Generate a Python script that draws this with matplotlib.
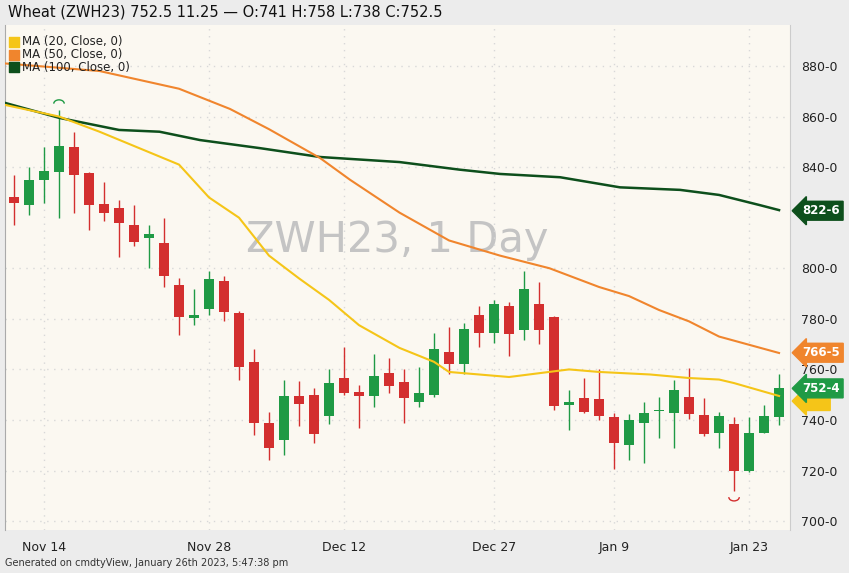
import numpy as np
import matplotlib.pyplot as plt
from matplotlib.patches import Arc

# OHLC candles, one per trading day
opens = [828, 825, 835, 838, 848, 837.5, 825.5, 824, 817, 812, 810, 793.4, 780.3, 784, 795, 782.3,
         763, 739, 732, 749.5, 750, 741.6, 756.6, 751, 749.5, 758.6, 755, 747, 750, 767, 762, 781.5,
         774.4, 785, 775.6, 786, 780.7, 746, 748.7, 748.3, 741, 730, 738.8, 743.5, 742.7, 749, 742,
         734.8, 738.4, 720, 734.8, 741]
closes = [826, 835, 838.5, 848.5, 837, 825, 822, 818, 810.5, 813.5, 797, 780.7, 781.5, 795.7, 782.7, 761,
          739, 729, 749.5, 746.3, 734.5, 754.6, 750.6, 749.5, 757.4, 753.4, 748.7, 750.6, 768, 762, 776, 774.4,
          786, 774, 792, 775.6, 745.5, 747, 743, 741.6, 731, 740, 742.7, 744, 751.8, 742.3, 734.5,
          741.6, 720, 734.8, 741.6, 752.5]
highs = [837, 840, 848, 862.6, 854, 838, 834, 827, 825, 817, 820, 796, 792, 799, 797, 783,
         768, 743, 756, 755.4, 752.6, 760, 769, 754, 766, 764.5, 760, 761, 774.4, 776.8, 778.5, 785,
         787.4, 786.6, 798.9, 794.6, 781, 751.7, 756.6, 760, 742.7, 742.4, 747, 749, 756, 760.4, 748.7,
         743, 741, 741, 746, 758]
lows = [817, 821, 826, 820, 822, 815, 818.5, 804.5, 809, 800, 792.6, 773.6, 777.5, 781.5, 779, 755.8,
        734, 724, 726, 737.6, 731, 738.4, 750, 737, 745, 750.6, 739, 745, 749, 758, 758, 769,
        770.6, 765.5, 771.6, 770, 744, 736, 742.7, 740, 720.6, 724, 723, 733, 729, 740.4, 733.7,
        729, 712, 719.5, 734.8, 738]

# moving averages: (candle index, value)
ma20_x = [-0.6, 3, 5.7, 11, 13, 15, 17, 19, 21, 23, 25.7, 28, 29, 31, 33, 35, 37, 39, 42.4, 45, 47, 48, 51]
ma20_y = [864.6, 860, 854, 841, 828, 820, 805, 796, 787.5, 777.5, 768.5, 763, 759, 758, 757, 758.5, 760, 759, 758, 756.6, 756, 754.6, 749.5]
ma50_x = [-0.6, 5.7, 11, 14.4, 17, 20.4, 22.4, 25.7, 29, 32.4, 35.7, 39, 41, 43, 45, 47, 51]
ma50_y = [881, 878, 871, 863, 855, 843.6, 835, 822, 811, 805, 800, 792.6, 789, 783.5, 779, 773, 766.5]
ma100_x = [-0.6, 3, 7, 9.7, 12.4, 16.4, 20.4, 25.7, 29.7, 32.4, 36.4, 40.4, 44.4, 47, 49.7, 51]
ma100_y = [865.4, 859.5, 854.7, 854, 850.7, 847.5, 844, 842, 839, 837.3, 836, 832, 831, 829, 825, 823]

date_pos = [2, 13, 22, 32, 40, 49]
date_labels = ["Nov 14", "Nov 28", "Dec 12", "Dec 27", "Jan 9", "Jan 23"]
price_ticks = [700, 720, 740, 760, 780, 800, 840, 860, 880]

green = "#1f9a45"
red = "#d32f2f"
bg = "#fbf8f1"

fig = plt.figure(figsize=(8.49, 5.73), dpi=100)
fig.patch.set_facecolor("#ececec")
ax = fig.add_axes([5 / 849, 1 - 530 / 573, 785 / 849, 505 / 573])
ax.set_facecolor(bg)

for i in range(len(opens)):
    o, c, h, l = opens[i], closes[i], highs[i], lows[i]
    col = green if c >= o else red
    ax.vlines(i, l, h, color=col, lw=1, zorder=2)
    ax.bar(i, max(abs(c - o), 0.5), bottom=min(o, c), width=0.68, color=col, zorder=3)

ax.plot(ma100_x, ma100_y, color="#0d4f1c", lw=1.8, zorder=4)
ax.plot(ma50_x, ma50_y, color="#f0852d", lw=1.5, zorder=4)
ax.plot(ma20_x, ma20_y, color="#f5c518", lw=1.5, zorder=4)

# high / low markers
hi = int(np.argmax(highs))
lo = int(np.argmin(lows))
ax.add_patch(Arc((hi, highs[hi] + 2.5), 0.7, 3, theta1=0, theta2=180, color=green, lw=1))
ax.add_patch(Arc((lo, lows[lo] - 2.5), 0.7, 3, theta1=180, theta2=360, color=red, lw=1))

ax.set_xlim(-0.6, 51.73)
ax.set_ylim(696.5, 896.2)
ax.set_xticks(date_pos)
ax.set_xticklabels(date_labels, fontsize=9)
ax.yaxis.tick_right()
ax.set_yticks(price_ticks)
ax.set_yticklabels([f"{p}-0" for p in price_ticks], fontsize=9)
ax.tick_params(length=0, pad=8, colors="#222222")
ax.grid(True, color="#d8d8d8", ls=(0, (1, 4)), lw=1)
for s in ["top", "bottom"]:
    ax.spines[s].set_visible(False)
ax.spines["left"].set_color("#aaaaaa")
ax.spines["right"].set_color("#cccccc")

ax.text(0.5, 0.575, "ZWH23, 1 Day", transform=ax.transAxes, ha="center", va="center",
        fontsize=30, color="#c4c4c4", zorder=1)

# legend
for k, (lab, col) in enumerate([("MA (20, Close, 0)", "#f5c518"), ("MA (50, Close, 0)", "#f0852d"),
                                 ("MA (100, Close, 0)", "#0d4f1c")]):
    y = 0.967 - k * 0.0255
    ax.scatter([0.011], [y], marker="s", s=42, color=col, transform=ax.transAxes, zorder=6, clip_on=False)
    ax.text(0.022, y, lab, transform=ax.transAxes, fontsize=8.5, va="center", color="#222222", zorder=6)

# price badges on the right axis
badge = dict(xycoords=("axes fraction", "data"), xytext=(9, 0), textcoords="offset points",
             va="center", ha="left", fontsize=8.5, fontweight="bold", annotation_clip=False)
ax.annotate("      ", xy=(1.0, 747.5), color="#222",
            bbox=dict(boxstyle="larrow,pad=0.25", fc="#f5c518", ec="#f5c518"), zorder=1, **badge)
ax.annotate("822-6", xy=(1.0, 822.75), color="white",
            bbox=dict(boxstyle="larrow,pad=0.25", fc="#0d4f1c", ec="#0d4f1c"), **badge)
ax.annotate("766-5", xy=(1.0, 766.6), color="white",
            bbox=dict(boxstyle="larrow,pad=0.25", fc="#f0852d", ec="#f0852d"), **badge)
ax.annotate("752-4", xy=(1.0, 752.5), color="white",
            bbox=dict(boxstyle="larrow,pad=0.25", fc=green, ec=green), zorder=7, **badge)

fig.text(8 / 849, 1 - 12 / 573, "Wheat (ZWH23) 752.5 11.25 \u2014 O:741 H:758 L:738 C:752.5",
         fontsize=10.5, va="center", color="#111111")
fig.text(5 / 849, 1 - 563 / 573, "Generated on cmdtyView, January 26th 2023, 5:47:38 pm",
         fontsize=7, va="center", color="#333333")

fig.savefig("out.png", dpi=100, facecolor=fig.get_facecolor())
